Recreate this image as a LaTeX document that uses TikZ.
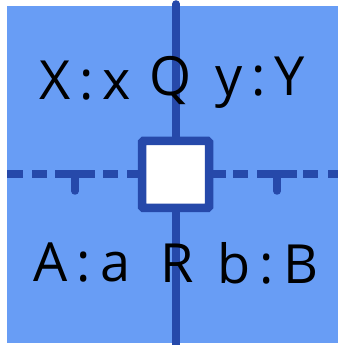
\documentclass[tikz,border=0pt]{standalone}
\usepackage{fontspec}
\setmainfont{Open Sans}
\definecolor{bg}{RGB}{104,157,245}
\definecolor{ln}{RGB}{38,73,170}
\tikzset{
  lab/.style={text=black, font=\fontsize{54}{60}\selectfont, inner sep=0pt},
  hl/.style={draw=ln, line width=7.5pt},
}
\begin{document}
\begin{tikzpicture}[x=1pt,y=1pt]
\useasboundingbox (0,0) rectangle (338,345);
\fill[bg] (7,2) rectangle (338,339);
% vertical line
\coordinate (vt) at (176,341);
\coordinate (vb) at (176,0);
\draw[hl, line cap=round] (vt) -- (176,20);
\draw[hl] (176,20) -- (vb);
% dashed horizontal line
\foreach \a/\b in {7/23,32/47,55/95,103/118,127/138}
  \draw[hl] (\a,171) -- (\b,171);
\foreach \a/\b in {213/226,233/248,257/297,303/318,328/338}
  \draw[hl] (\a,171) -- (\b,171);
% ticks
\coordinate (t1) at (75,171);
\coordinate (t2) at (277,171);
\draw[hl, line cap=round] (t1) -- (75,154);
\draw[hl, line cap=round] (t2) -- (277,154);
% square
\node[draw=ln, line width=8.5pt, fill=white, minimum size=67pt, inner sep=0pt, rounded corners=1.5pt] (sq) at (175.5,170.5) {};
% labels
\node[lab] (xx) at (85,264) {X\,:\,x};
\node[lab] (q) at (171,264) {Q};
\node[lab] (yy) at (260,262) {y\,:\,Y};
\node[lab] (aa) at (82,82) {A\,:\,a};
\node[lab] (r) at (177,82) {R};
\node[lab] (bb) at (268,82) {b\,:\,B};
\end{tikzpicture}
\end{document}
